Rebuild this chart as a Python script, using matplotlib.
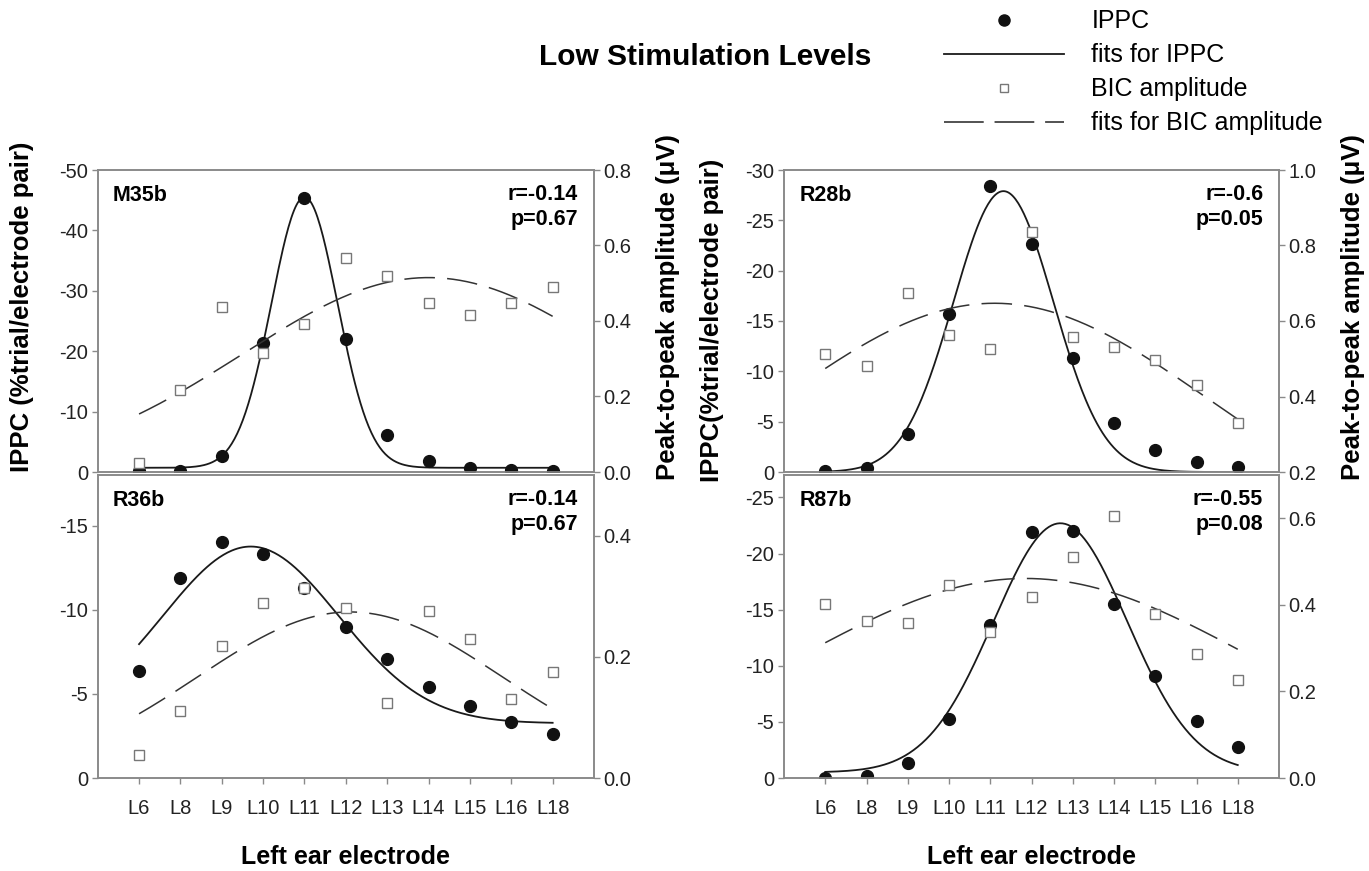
import numpy as np
import matplotlib
matplotlib.use("Agg")
import matplotlib.pyplot as plt
from matplotlib.lines import Line2D

plt.rcParams['font.family'] = ['Liberation Sans', 'DejaVu Sans']
plt.rcParams['axes.unicode_minus'] = False

electrodes = ['L6', 'L8', 'L9', 'L10', 'L11', 'L12', 'L13', 'L14', 'L15', 'L16', 'L18']

# IPPC (left axis) and BIC amplitude (right axis, uV) per animal
ippc_m35b = [-0.1, -0.2, -2.7, -21.4, -45.4, -22.1, -6.2, -1.9, -0.6, -0.3, -0.2]
bic_m35b = [0.025, 0.218, 0.436, 0.316, 0.391, 0.568, 0.518, 0.447, 0.415, 0.447, 0.491]
ippc_r36b = [-6.37, -11.9, -14.0, -13.3, -11.3, -9.0, -7.04, -5.43, -4.25, -3.32, -2.61]
bic_r36b = [0.038, 0.111, 0.218, 0.289, 0.314, 0.280, 0.124, 0.275, 0.229, 0.130, 0.175]
ippc_r28b = [-0.13, -0.39, -3.78, -15.7, -28.4, -22.6, -11.3, -4.9, -2.17, -1.02, -0.53]
bic_r28b = [0.512, 0.482, 0.675, 0.562, 0.525, 0.837, 0.557, 0.530, 0.497, 0.430, 0.331]
ippc_r87b = [0.0, -0.2, -1.3, -5.28, -13.6, -21.9, -22.0, -15.5, -9.12, -5.05, -2.77]
bic_r87b = [0.401, 0.363, 0.358, 0.446, 0.337, 0.419, 0.511, 0.605, 0.378, 0.287, 0.226]

# gaussian fit parameters: baseline, amplitude, centre (electrode index), width
fit_ippc_m35b = [-0.7, -44.8, 4.0, 0.80]
fit_bic_m35b = [0.0, 0.515, 7.0, 4.5]
fit_ippc_r36b = [-3.25, -10.5, 2.7, 2.13]
fit_bic_r36b = [0.0, 0.274, 5.1, 3.7]
fit_ippc_r28b = [0.0, -27.9, 4.32, 1.21]
fit_bic_r28b = [0.0, 0.647, 4.1, 5.2]
fit_ippc_r87b = [-0.5, -22.2, 5.7, 1.62]
fit_bic_r87b = [0.0, 0.461, 4.85, 5.5]

stats = {'M35b': ('r=-0.14', 'p=0.67'), 'R36b': ('r=-0.14', 'p=0.67'),
         'R28b': ('r=-0.6', 'p=0.05'), 'R87b': ('r=-0.55', 'p=0.08')}

SPINE = '#8a8a8a'
TICKC = '#222222'


def gauss(x, y0, a, c, s):
    return y0 + a * np.exp(-(x - c) ** 2 / (2 * s ** 2))


def panel(ax, name, ippc, bic, fit_i, fit_b, ylim_l, step_l, ylim_r, ticks_r, bottom):
    x = np.arange(len(electrodes))
    xs = np.linspace(0, len(electrodes) - 1, 300)
    ax2 = ax.twinx()

    ax.plot(xs, gauss(xs, *fit_i), color='#1a1a1a', lw=1.3, zorder=2)
    ax.plot(x, ippc, 'o', color='#111111', ms=8.5, zorder=3)
    ax2.plot(xs, gauss(xs, *fit_b), color='#333333', lw=1.1, dashes=(20, 8))
    ax2.plot(x, bic, 's', mfc='white', mec='#777777', mew=1.0, ms=7)

    ax.set_xlim(-1, len(electrodes))
    ax.set_ylim(*ylim_l)
    ax.set_yticks(np.arange(0, ylim_l[1] - 0.01, -step_l))
    ax2.set_ylim(*ylim_r)
    ax2.set_yticks(ticks_r)
    ax2.set_yticklabels(['%.1f' % t for t in ticks_r])

    for a in (ax, ax2):
        for sp in a.spines.values():
            sp.set_color(SPINE)
            sp.set_linewidth(1.2)
        a.tick_params(axis='y', direction='out', length=4, width=1, color=SPINE,
                      labelsize=14.5, labelcolor=TICKC, pad=3)
    if bottom:
        ax.set_xticks(x)
        ax.set_xticklabels(electrodes)
        ax.tick_params(axis='x', direction='out', length=4, width=1, color=SPINE,
                       labelsize=14.5, labelcolor=TICKC, pad=11)
        ax.set_xlabel('Left ear electrode', fontsize=18, fontweight='bold')
        ax.xaxis.set_label_coords(0.5, -0.26)
        ax.xaxis.label.set_verticalalignment('center')
    else:
        ax.set_xticks([])

    r, p = stats[name]
    ax.text(0.031, 0.915, name, transform=ax.transAxes, fontsize=15.5,
            fontweight='bold', va='center', ha='left')
    ax.text(0.968, 0.92, r, transform=ax.transAxes, fontsize=15.5,
            fontweight='bold', va='center', ha='right')
    ax.text(0.968, 0.835, p, transform=ax.transAxes, fontsize=15.5,
            fontweight='bold', va='center', ha='right')
    return ax2


fig = plt.figure(figsize=(13.69, 8.71), dpi=100)
W, H = 1369, 871
lc = [97.7 / W, 496.3 / W]
rc = [784 / W, 495 / W]
top_row = [1 - 472 / H, 302 / H]
bot_row = [1 - 778 / H, 303 / H]

ax_a = fig.add_axes([lc[0], top_row[0], lc[1], top_row[1]])
ax_b = fig.add_axes([lc[0], bot_row[0], lc[1], bot_row[1]])
ax_c = fig.add_axes([rc[0], top_row[0], rc[1], top_row[1]])
ax_d = fig.add_axes([rc[0], bot_row[0], rc[1], bot_row[1]])

a2 = panel(ax_a, 'M35b', ippc_m35b, bic_m35b, fit_ippc_m35b, fit_bic_m35b,
           (0, -50), 10, (0, 0.8), [0.0, 0.2, 0.4, 0.6, 0.8], False)
panel(ax_b, 'R36b', ippc_r36b, bic_r36b, fit_ippc_r36b, fit_bic_r36b,
      (0, -18), 5, (0, 0.5), [0.0, 0.2, 0.4], True)
c2 = panel(ax_c, 'R28b', ippc_r28b, bic_r28b, fit_ippc_r28b, fit_bic_r28b,
           (0, -30), 5, (0.2, 1.0), [0.2, 0.4, 0.6, 0.8, 1.0], False)
panel(ax_d, 'R87b', ippc_r87b, bic_r87b, fit_ippc_r87b, fit_bic_r87b,
      (0, -27), 5, (0, 0.7), [0.0, 0.2, 0.4, 0.6], True)

ax_a.set_ylabel('IPPC (%trial/electrode pair)', fontsize=18.5, fontweight='bold')
ax_a.yaxis.set_label_coords(-0.152, 0.546)
a2.set_ylabel('Peak-to-peak amplitude (μV)', fontsize=18.5, fontweight='bold', rotation=90)
a2.yaxis.set_label_coords(1.149, 0.546)
ax_c.set_ylabel('IPPC(%trial/electrode pair)', fontsize=18.5, fontweight='bold')
ax_c.yaxis.set_label_coords(-0.145, 0.503)
c2.set_ylabel('Peak-to-peak amplitude (μV)', fontsize=18.5, fontweight='bold', rotation=90)
c2.yaxis.set_label_coords(1.15, 0.546)
for lab in (ax_a.yaxis.label, a2.yaxis.label, ax_c.yaxis.label, c2.yaxis.label):
    lab.set_verticalalignment('center')

fig.text(705 / W, 1 - 57 / H, 'Low Stimulation Levels', fontsize=21.5,
         fontweight='bold', ha='center', va='center')

handles = [
    Line2D([], [], ls='none', marker='o', color='#111111', ms=8),
    Line2D([], [], color='#1a1a1a', lw=1.3),
    Line2D([], [], ls='none', marker='s', mfc='white', mec='#777777', ms=6),
    Line2D([], [], color='#444444', lw=1.3, dashes=(22, 6)),
]
labels = ['IPPC', 'fits for IPPC', 'BIC amplitude', 'fits for BIC amplitude']
fig.legend(handles, labels, loc='upper left', bbox_to_anchor=(930 / W, 1.005),
           frameon=False, fontsize=18, handlelength=4.8, handletextpad=1.1,
           labelspacing=0.40, borderpad=0.05)

fig.savefig('out.png', dpi=100)
